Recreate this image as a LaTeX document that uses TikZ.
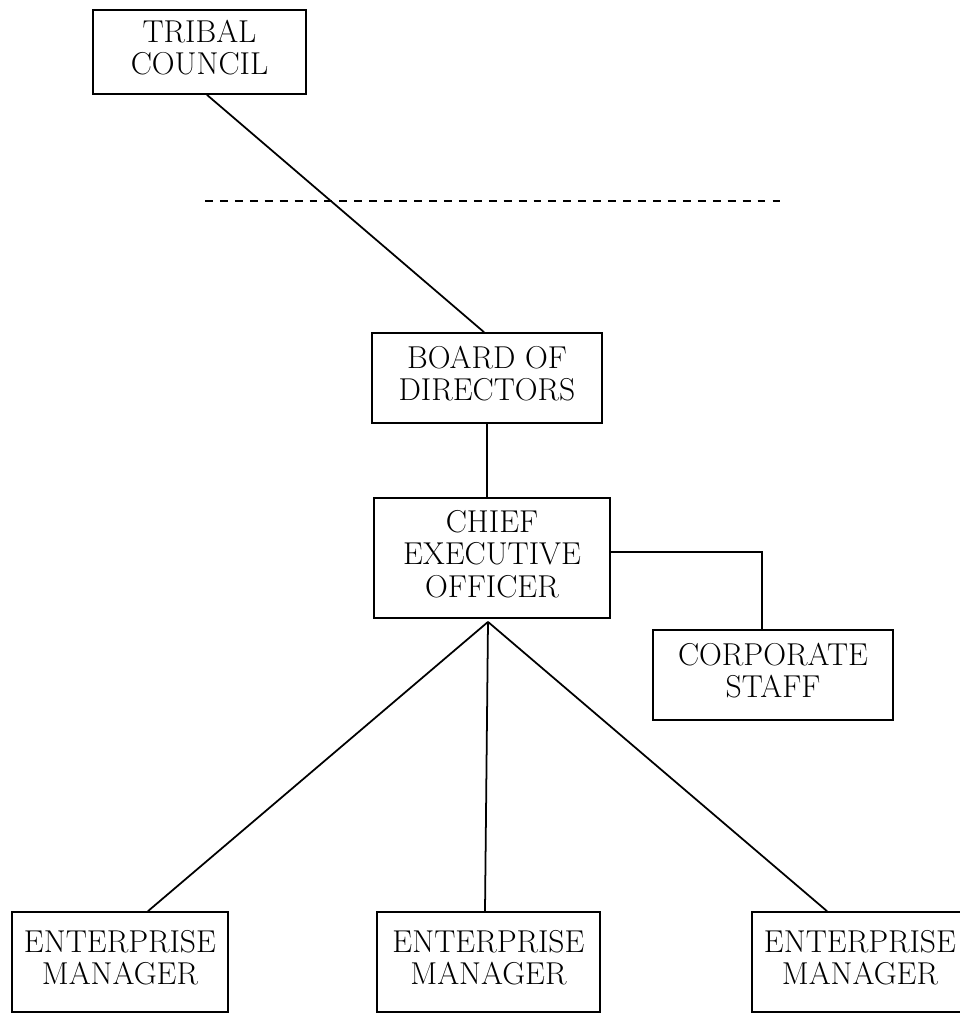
\documentclass[tikz,border=0pt]{standalone}
\usetikzlibrary{positioning}

\begin{document}
\begin{tikzpicture}[x=0.02cm,y=-0.02cm,line width=1pt,
	unitbox/.style={draw,rectangle,inner sep=0pt,font=\fontsize{18}{18.5}\selectfont},
	linkline/.style={line width=1pt}]
		\useasboundingbox (0,0) rectangle (960,1015);
		
		\node[unitbox,minimum width=213*0.02cm,minimum height=84*0.02cm] (tribal) at (199.5,52){\begin{tabular}{c}TRIBAL\\COUNCIL\end{tabular}};
		
		\coordinate (cutleft) at (205,201);
		\coordinate (cutright) at (783,201);
		\draw[dash pattern=on 4.5pt off 4pt] (cutleft) -- (cutright);
		
		\node[unitbox,minimum width=230*0.02cm,minimum height=90*0.02cm] (board) at (487,378){\begin{tabular}{c}BOARD OF\\DIRECTORS\end{tabular}};
		
		\node[unitbox,minimum width=236*0.02cm,minimum height=120*0.02cm] (ceo) at (492,558){\begin{tabular}{c}CHIEF\\EXECUTIVE\\OFFICER\end{tabular}};
		
		\node[unitbox,minimum width=240*0.02cm,minimum height=90*0.02cm] (staff) at (773,675){\begin{tabular}{c}CORPORATE\\STAFF\end{tabular}};
		
		\node[unitbox,minimum width=216*0.02cm,minimum height=100*0.02cm] (mgrA) at (120,962){\begin{tabular}{c}ENTERPRISE\\MANAGER\end{tabular}};
		\node[unitbox,minimum width=223*0.02cm,minimum height=100*0.02cm] (mgrB) at (488.5,962){\begin{tabular}{c}ENTERPRISE\\MANAGER\end{tabular}};
		\node[unitbox,minimum width=216*0.02cm,minimum height=100*0.02cm] (mgrC) at (860,962){\begin{tabular}{c}ENTERPRISE\\MANAGER\end{tabular}};
		
		\draw[linkline] ([xshift=0.15cm]tribal.south) -- ([xshift=-0.06cm]board.north);
		\draw[linkline] (board.south) -- (board.south |- ceo.north);
		\draw[linkline] ([yshift=0.12cm]ceo.east) -| ([xshift=-0.22cm]staff.north);
		
		\coordinate (fan) at ([xshift=-0.08cm,yshift=-0.06cm]ceo.south);
		\draw[linkline] (fan) -- ([xshift=0.56cm]mgrA.north);
		\draw[linkline] (fan) -- ([xshift=-0.07cm]mgrB.north);
		\draw[linkline] (fan) -- ([xshift=-0.66cm]mgrC.north);
	\end{tikzpicture}
\end{document}
